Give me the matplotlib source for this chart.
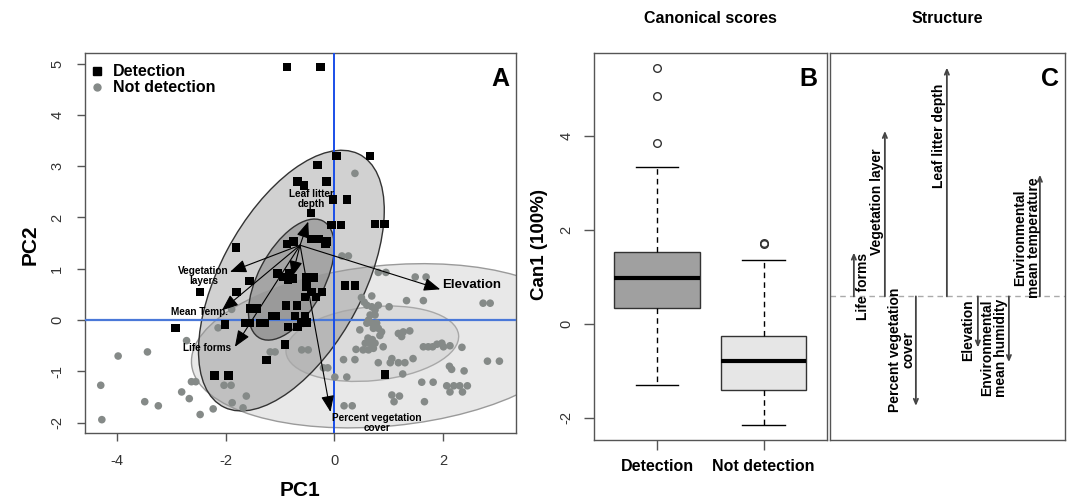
import numpy as np
import matplotlib
matplotlib.use('Agg')
import matplotlib.pyplot as plt
from matplotlib.patches import Ellipse
from matplotlib.lines import Line2D

plt.rcParams['font.family'] = ['Liberation Sans', 'DejaVu Sans']
plt.rcParams['axes.unicode_minus'] = False

# ---------------- Panel A data (PCA scores) ----------------
det_x = [-0.87, -0.25, 0.04, 0.66, -0.31, -0.56, -0.68, -0.14, -0.02, 0.23, -0.43, -0.05, 0.12,
         0.75, 0.92, -1.81, -0.87, -0.75, -0.43, -0.29, -0.16, -0.14, -2.47, -1.80, -1.56, -1.05,
         -0.94, -0.82, -0.76, -0.85, -0.51, -0.37, -0.51, -0.42, -0.23, -0.34, -0.54, 0.20, 0.38,
         -0.89, -0.69, -1.55, -1.43, -1.15, -1.07, -0.72, -0.54, -2.92, -2.01, -1.64, -1.55, -1.37,
         -1.28, -0.85, -0.68, -0.60, -0.51, -0.91, -1.25, -2.21, -1.95, 0.93]
det_y = [4.93, 4.93, 3.20, 3.20, 3.02, 2.62, 2.70, 2.70, 2.35, 2.35, 2.09, 1.85, 1.85,
         1.87, 1.87, 1.42, 1.48, 1.53, 1.58, 1.58, 1.48, 1.53, 0.55, 0.55, 0.76, 0.91,
         0.84, 0.91, 0.81, 0.78, 0.83, 0.83, 0.65, 0.55, 0.55, 0.45, 0.45, 0.68, 0.68,
         0.28, 0.28, 0.23, 0.23, 0.08, 0.08, 0.08, 0.08, -0.15, -0.08, -0.06, -0.06, -0.06,
         -0.06, -0.13, -0.13, -0.05, -0.05, -0.47, -0.78, -1.08, -1.08, -1.06]

nd_x = [-3.98, -3.44, -4.30, -4.28, -3.49, -3.24, -2.72, -2.63, -2.55, -2.81, -2.67, -2.47, -2.23,
        -2.14, -2.03, -1.90, -1.88, -1.68, -1.62, -1.89,
        0.38, 0.14, 0.26, 0.81, 0.95, 1.49, 1.69, 2.74, 2.87, 1.33, 1.64,
        0.50, 0.69, 0.60, 0.69, 0.81, 0.66, 0.75, 0.60, 0.69, 0.78, 0.72, 0.81, 0.47, 0.87, 1.01,
        0.55, 0.75, 0.63, 0.84, 0.62, 0.70,
        1.18, 1.27, 1.39, 1.24,
        0.57, 0.66, 0.75, 0.72, 0.63, 0.53, 0.90, 0.40,
        1.64, 1.73, 1.81, 1.89, 1.98, 2.01, 2.13, 2.35,
        0.17, 0.38, 0.81, 1.03, 1.06, 1.18, 1.30, 1.45,
        -0.60, -0.48, -1.18, -1.09, -0.20, -0.12, 0.01, 0.23, 1.26, 2.12, 2.16, 2.39, 2.82, 3.04,
        1.61, 1.82, 2.07, 2.20, 2.31, 2.45, 2.13, 2.36, 1.06, 1.20, 1.10, 1.66, 0.18, 0.33]
nd_y = [-0.70, -0.62, -1.27, -1.94, -1.59, -1.67, -0.40, -1.20, -1.20, -1.40, -1.53, -1.84, -1.73,
        -0.15, -1.27, -1.27, -1.61, -1.71, -1.48, 0.21,
        2.86, 1.25, 1.25, 0.93, 0.93, 0.84, 0.84, 0.33, 0.33, 0.38, 0.38,
        0.44, 0.47, 0.29, 0.26, 0.29, 0.10, 0.10, -0.06, -0.06, -0.06, -0.16, -0.16, -0.19, -0.23, 0.26,
        0.35, 0.20, 0.00, -0.30, -0.35, -0.38,
        -0.26, -0.23, -0.21, -0.32,
        -0.45, -0.45, -0.45, -0.55, -0.58, -0.58, -0.52, -0.57,
        -0.52, -0.52, -0.52, -0.47, -0.45, -0.52, -0.50, -0.53,
        -0.77, -0.77, -0.83, -0.83, -0.75, -0.83, -0.83, -0.75,
        -0.58, -0.58, -0.62, -0.62, -0.93, -0.93, -1.11, -1.11, -1.05, -0.90, -0.96, -0.99, -0.80, -0.80,
        -1.21, -1.21, -1.28, -1.28, -1.28, -1.28, -1.40, -1.40, -1.46, -1.48, -1.59, -1.59, -1.67, -1.67]

# data ellipses: centre, half extent in x, half extent in y, correlation
ell_cx = [0.95, 0.70, -0.79, -0.79]
ell_cy = [-0.50, -0.46, 0.77, 0.79]
ell_wx = [3.58, 1.59, 1.71, 0.79]
ell_hy = [1.60, 0.735, 2.54, 1.18]
ell_r = [0.19, 0.19, 0.54, 0.54]

# loading vectors
vec_origin_x = -0.63
vec_origin_y = 1.46
vec_labels = ['Leaf litter\ndepth', 'Vegetation\nlayers', 'Mean Temp.', 'Life forms',
              'Percent vegetation\ncover', 'Elevation', '']
vec_x = [-0.48, -1.92, -2.07, -1.83, -0.07, 1.95, -0.78]
vec_y = [1.92, 0.94, 0.19, -0.52, -1.79, 0.60, 0.84]

# ---------------- Panel B data (canonical scores) ----------------
box_labels = ['Detection', 'Not detection']
box_med = [0.98, -0.78]
box_q1 = [0.33, -1.40]
box_q3 = [1.53, -0.26]
box_lo = [-1.30, -2.16]
box_hi = [3.33, 1.36]
box_out = [[3.85, 4.85, 5.44], [1.70, 1.73]]

# ---------------- Panel C data (structure) ----------------
struct_labels = ['Life forms', 'Vegetation layer', 'Percent vegetation\ncover', 'Leaf litter depth',
                 'Elevation', 'Environmental\nmean humidity', 'Environmental\nmean temperature']
struct_vals = [0.18, 0.68, -0.45, 0.94, -0.21, -0.27, 0.50]

# ---------------- layout / styles ----------------
W, H = 1073, 504
fig = plt.figure(figsize=(W / 100, H / 100), dpi=100)

def frac(l, t, r, b):
    return [l / W, (H - b) / H, (r - l) / W, (b - t) / H]

axA = fig.add_axes(frac(85, 53.3, 515.7, 433))
axB = fig.add_axes(frac(594, 53, 826.7, 440))
axC = fig.add_axes(frac(830, 53, 1065, 440))

spine_col = '#555555'
for ax in (axA, axB, axC):
    for s in ax.spines.values():
        s.set_color(spine_col)
        s.set_linewidth(1.0)

# ---- Panel A ----
axA.set_xlim(-4.59, 3.34)
axA.set_ylim(-2.20, 5.20)

ell_face = [('#808080', 0.18), ('#808080', 0.12), ('#5a5a5a', 0.28), ('#4a4a4a', 0.32)]
ell_edge = ['#9a9a9a', '#a8a8a8', '#333333', '#333333']
for i in range(4):
    S = np.array([[ell_wx[i] ** 2, ell_r[i] * ell_wx[i] * ell_hy[i]],
                  [ell_r[i] * ell_wx[i] * ell_hy[i], ell_hy[i] ** 2]])
    vals, vecs = np.linalg.eigh(S)
    ang = np.degrees(np.arctan2(vecs[1, 1], vecs[0, 1]))
    fc, al = ell_face[i]
    e = Ellipse((ell_cx[i], ell_cy[i]), 2 * np.sqrt(vals[1]), 2 * np.sqrt(vals[0]), angle=ang,
                facecolor=fc, alpha=al, edgecolor='none', zorder=1)
    axA.add_patch(e)
    e2 = Ellipse((ell_cx[i], ell_cy[i]), 2 * np.sqrt(vals[1]), 2 * np.sqrt(vals[0]), angle=ang,
                 facecolor='none', edgecolor=ell_edge[i], lw=1.0, zorder=2)
    axA.add_patch(e2)

axA.axhline(0, color='#4a78d8', lw=1.6, zorder=3)
axA.axvline(0, color='#1a4ee8', lw=1.4, zorder=3)

axA.scatter(nd_x, nd_y, marker='o', s=30, color='#858a88', edgecolors='none', zorder=4)
axA.scatter(det_x, det_y, marker='s', s=38, color='black', edgecolors='none', zorder=5)

for i in range(len(vec_x)):
    axA.annotate('', xy=(vec_x[i], vec_y[i]), xytext=(vec_origin_x, vec_origin_y),
                 arrowprops=dict(arrowstyle='-|>,head_length=1.0,head_width=0.4',
                                 color='black', lw=0.8, shrinkA=0, shrinkB=0), zorder=6)

lab_pos = [(-0.42, 2.37, 'center', 7.2), (-2.41, 0.86, 'center', 7.2), (-1.95, 0.16, 'right', 7.2),
           (-1.90, -0.54, 'right', 7.2), (0.78, -2.0, 'center', 7.2), (1.98, 0.68, 'left', 9.5),
           (0, 0, 'center', 7)]
for i, lab in enumerate(vec_labels):
    if lab:
        x, y, ha, fs = lab_pos[i]
        axA.text(x, y, lab, ha=ha, va='center', fontsize=fs, fontweight='bold',
                 linespacing=1.0, zorder=7)

axA.set_xticks([-4, -2, 0, 2])
axA.set_yticks([-2, -1, 0, 1, 2, 3, 4, 5])
axA.tick_params(axis='both', length=6, width=1, color=spine_col, labelsize=10.5,
                labelcolor='#333333', pad=9)
axA.tick_params(axis='y', labelrotation=90)
for t in axA.get_yticklabels():
    t.set_va('center')

leg_handles = [Line2D([], [], marker='s', ls='none', color='black', markersize=5.5),
               Line2D([], [], marker='o', ls='none', color='#858a88', markersize=5)]
axA.legend(leg_handles, ['Detection', 'Not detection'], loc='upper left', frameon=False,
           bbox_to_anchor=(-0.012, 1.0), prop={'weight': 'bold', 'size': 11.5},
           handlelength=0.8, handletextpad=0.55, labelspacing=0.05, borderaxespad=0.3)
axA.text(0.985, 0.965, 'A', transform=axA.transAxes, ha='right', va='top',
         fontsize=18, fontweight='bold')

fig.text(300 / W, 1 - 490 / H, 'PC1', ha='center', va='center', fontsize=15, fontweight='bold')
fig.text(30 / W, 1 - 245 / H, 'PC2', ha='center', va='center', fontsize=15, fontweight='bold',
         rotation=90)

# ---- Panel B ----
stats = []
for i in range(2):
    stats.append(dict(med=box_med[i], q1=box_q1[i], q3=box_q3[i], whislo=box_lo[i],
                      whishi=box_hi[i], fliers=box_out[i], label=box_labels[i]))
bp = axB.bxp(stats, positions=[1, 2], widths=0.8, patch_artist=True,
             boxprops=dict(edgecolor='#333333', lw=1.0),
             medianprops=dict(color='black', lw=3),
             whiskerprops=dict(color='black', lw=1, ls=(0, (4, 3))),
             capprops=dict(color='black', lw=1), capwidths=0.4,
             flierprops=dict(marker='o', markerfacecolor='none', markeredgecolor='#333333',
                             markersize=5.5, markeredgewidth=1))
for patch, c in zip(bp['boxes'], ['#a0a0a0', '#e6e6e6']):
    patch.set_facecolor(c)
axB.set_xlim(0.41, 2.59)
axB.set_ylim(-2.47, 5.76)
axB.set_yticks([-2, 0, 2, 4])
axB.tick_params(axis='both', length=7, width=1, color=spine_col, labelcolor='#333333')
axB.tick_params(axis='y', labelsize=10.5, labelrotation=90, pad=8)
for t in axB.get_yticklabels():
    t.set_va('center')
axB.tick_params(axis='x', labelsize=11.5, pad=7)
for t in axB.get_xticklabels():
    t.set_fontweight('bold')
    t.set_color('black')
axB.text(0.96, 0.965, 'B', transform=axB.transAxes, ha='right', va='top',
         fontsize=18, fontweight='bold')
axB.set_title('Canonical scores', fontsize=11.5, fontweight='bold', pad=21.5)
fig.text(540 / W, 1 - 245 / H, 'Can1 (100%)', ha='center', va='center', fontsize=13.5,
         fontweight='bold', rotation=90)

# ---- Panel C ----
axC.set_xlim(0.23, 7.81)
axC.set_ylim(-0.59, 1.0)
axC.set_xticks([])
axC.set_yticks([])
axC.axhline(0, color='#aaaaaa', lw=1.0, ls=(0, (4, 3)), zorder=1)
pos = np.arange(1, len(struct_vals) + 1)
for p, v in zip(pos, struct_vals):
    axC.annotate('', xy=(p, v), xytext=(p, 0),
                 arrowprops=dict(arrowstyle='->,head_length=0.35,head_width=0.15',
                                 color='#444444', lw=1.3, shrinkA=0, shrinkB=0), zorder=2)
slab_x = [1.28, 1.74, 2.55, 3.74, 4.68, 5.52, 6.6]
slab_y = [0.04, 0.39, -0.22, 0.66, -0.14, -0.21, 0.24]
for lab, x, y in zip(struct_labels, slab_x, slab_y):
    axC.text(x, y, lab, rotation=90, ha='center', va='center', fontsize=10,
             fontweight='bold', linespacing=1.0, multialignment='center')
axC.text(0.975, 0.965, 'C', transform=axC.transAxes, ha='right', va='top',
         fontsize=18, fontweight='bold')
axC.set_title('Structure', fontsize=11.5, fontweight='bold', pad=21.5)

fig.savefig('out.png', dpi=100)
